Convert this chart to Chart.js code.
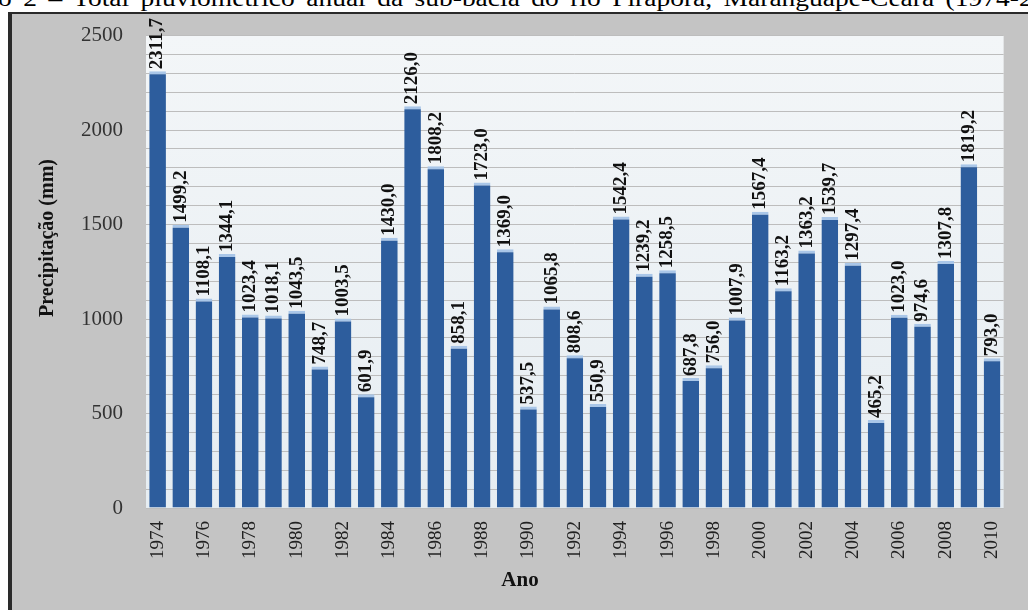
<!DOCTYPE html>
<html><head><meta charset="utf-8">
<script src="https://cdn.jsdelivr.net/npm/chart.js@4/dist/chart.umd.min.js"></script>
<style>
html,body{margin:0;padding:0;background:#fff;width:1028px;height:610px;overflow:hidden;position:relative}
#cap{position:absolute;left:-2px;top:-15px;font:24px "Liberation Serif",serif;white-space:nowrap;word-spacing:4px;color:#000;transform:scaleX(1.145);transform-origin:0 0}
#frame{position:absolute;left:8px;top:12px;width:1020px;height:598px;background:#c4c4c4;border-left:4px solid #2a2a2a;border-top:2px solid #2a2a2a;box-sizing:border-box}
#c{position:absolute;left:0;top:0;width:1028px;height:610px}
</style></head>
<body>
<div id="cap">o 2 – Total pluviométrico anual da sub-bacia do rio Pirapora, Maranguape-Ceará (1974-2010)</div>
<div id="frame"></div>
<canvas id="c" width="1028" height="610"></canvas>
<script>
const years = ['1974','1975','1976','1977','1978','1979','1980','1981','1982','1983','1984','1985','1986','1987','1988','1989','1990','1991','1992','1993','1994','1995','1996','1997','1998','1999','2000','2001','2002','2003','2004','2005','2006','2007','2008','2009','2010'];
const precipitation = [2311.7,1499.2,1108.1,1344.1,1023.4,1018.1,1043.5,748.7,1003.5,601.9,1430.0,2126.0,1808.2,858.1,1723.0,1369.0,537.5,1065.8,808.6,550.9,1542.4,1239.2,1258.5,687.8,756.0,1007.9,1567.4,1163.2,1363.2,1539.7,1297.4,465.2,1023.0,974.6,1307.8,1819.2,793.0];
const yTickLabels = ['0','500','1000','1500','2000','2500'];
const yTitle = 'Precipitação (mm)';
const xTitle = 'Ano';

const plotBg = {
  id: 'plotBg',
  beforeDraw(chart) {
    const {ctx, chartArea: a} = chart;
    const g = ctx.createLinearGradient(0, a.top, 0, a.bottom);
    g.addColorStop(0, '#f3f6f8');
    g.addColorStop(1, '#e6edf2');
    ctx.save();
    ctx.fillStyle = g;
    ctx.fillRect(a.left, a.top, a.right - a.left, a.bottom - a.top);
    ctx.restore();
  }
};

const valueLabels = {
  id: 'valueLabels',
  afterDatasetsDraw(chart) {
    const {ctx} = chart;
    const meta = chart.getDatasetMeta(0);
    ctx.save();
    ctx.font = 'bold 19px "Liberation Serif", serif';
    ctx.fillStyle = '#111';
    ctx.textAlign = 'left';
    ctx.textBaseline = 'middle';
    meta.data.forEach((el, i) => {
      const txt = precipitation[i].toFixed(1).replace('.', ',');
      ctx.save();
      ctx.translate(el.x, el.y - 2);
      ctx.rotate(-Math.PI / 2);
      ctx.fillText(txt, 0, 0);
      ctx.restore();
    });
    ctx.restore();
  }
};

const axisTitles = {
  id: 'axisTitles',
  afterDraw(chart) {
    const {ctx} = chart;
    ctx.save();
    ctx.fillStyle = '#111';
    ctx.textAlign = 'center';
    ctx.textBaseline = 'middle';
    ctx.font = 'bold 20px "Liberation Serif", serif';
    ctx.translate(48, 238);
    ctx.rotate(-Math.PI / 2);
    ctx.fillText(yTitle, 0, 0);
    ctx.restore();
    ctx.save();
    ctx.fillStyle = '#111';
    ctx.textAlign = 'center';
    ctx.textBaseline = 'middle';
    ctx.font = 'bold 21px "Liberation Serif", serif';
    ctx.fillText(xTitle, 520, 581);
    ctx.restore();
  }
};

new Chart(document.getElementById('c'), {
  type: 'bar',
  data: {
    labels: years,
    datasets: [{
      data: precipitation,
      backgroundColor: '#2d5d9d',
      borderColor: '#a9c6e8',
      borderWidth: {top: 3, left: 0, right: 0, bottom: 0},
      borderSkipped: false,
      categoryPercentage: 1,
      barPercentage: 0.72
    }]
  },
  options: {
    responsive: false,
    animation: false,
    devicePixelRatio: 1,
    layout: {padding: {top: 35, right: 11, left: 0, bottom: 0}},
    plugins: {legend: {display: false}, tooltip: {enabled: false}, title: {display: false}},
    scales: {
      x: {
        afterFit(s) { s.height = 102; },
        grid: {display: false, drawTicks: false},
        border: {display: false},
        ticks: {
          autoSkip: false, maxRotation: 90, minRotation: 90, padding: 13,
          color: '#222',
          font: {family: '"Liberation Serif", serif', size: 19},
          callback: (v, i) => (i % 2 === 0 ? years[i] : '')
        }
      },
      y: {
        min: 0, max: 2500,
        afterFit(s) { s.width = 146; },
        grid: {color: '#bdbdbd', lineWidth: 1, drawTicks: false},
        border: {display: false},
        ticks: {
          stepSize: 100, autoSkip: false, padding: 23,
          color: '#333',
          font: {family: '"Liberation Serif", serif', size: 21},
          callback: (v) => (v % 500 === 0 ? yTickLabels[v / 500] : '')
        }
      }
    }
  },
  plugins: [plotBg, valueLabels, axisTitles]
});
</script>
</body></html>
